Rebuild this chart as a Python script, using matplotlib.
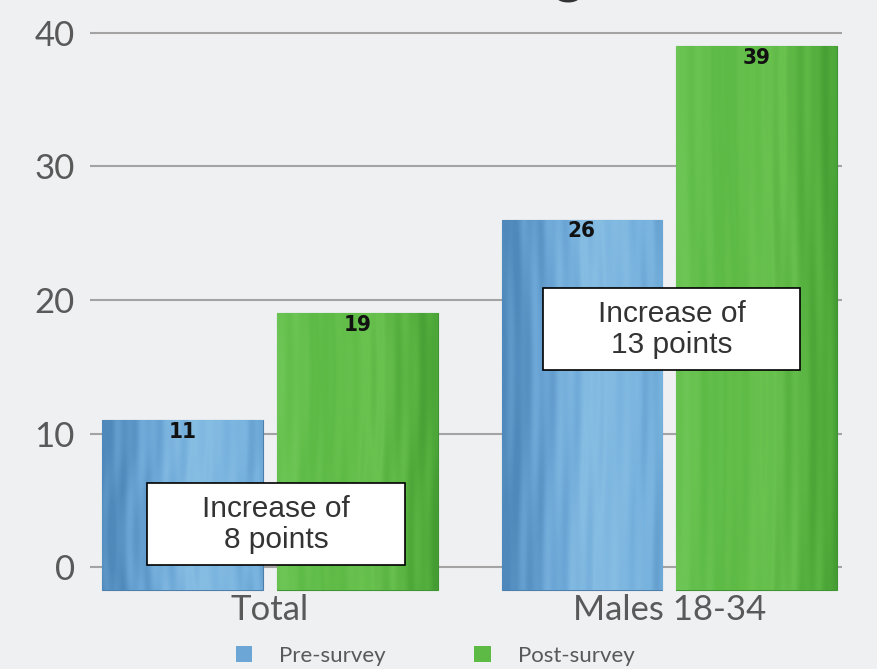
import numpy as np
import matplotlib
matplotlib.use("Agg")
import matplotlib.pyplot as plt
from matplotlib.colors import LinearSegmentedColormap
from matplotlib.patches import Rectangle

# ---- data ----
categories = ["Total", "Males 18-34"]
series_names = ["Pre-survey", "Post-survey"]
pre_survey = [11, 26]
post_survey = [19, 39]
increase_labels = ["Increase of\n8 points", "Increase of\n13 points"]
y_ticks = [0, 10, 20, 30, 40]

# ---- style ----
bg_color = "#EEF0F2"
pre_colors = ["#4F88BA", "#6BA6D6", "#86BDE3", "#78B2DE", "#5E98C9"]
post_colors = ["#6CC554", "#5DBA45", "#6AC24F", "#52AD3C", "#3F962F"]
tick_color = "#595959"
grid_color = "#A3A3A3"
label_font = ["Lato", "DejaVu Sans"]

W, H, DPI = 877, 669, 100
fig = plt.figure(figsize=(W / DPI, H / DPI), dpi=DPI, facecolor=bg_color)
ax = fig.add_axes([90 / W, 69 / H, 752 / W, 600 / H])
ax.set_facecolor("none")
ax.set_xlim(-0.451, 1.433)
ax.set_ylim(-2.47, 42.47)
for s in ax.spines.values():
    s.set_visible(False)

# horizontal grid lines
ax.set_yticks(y_ticks)
ax.set_yticklabels([str(t) for t in y_ticks], fontsize=25, color=tick_color,
                   family=label_font)
ax.tick_params(axis="y", length=0, pad=11)
ax.set_xticks([])
ax.grid(axis="y", color=grid_color, linewidth=1.5, zorder=0)
ax.set_axisbelow(True)

x = np.arange(len(categories))
bar_w = 0.402
offset = 0.219
base = -1.7  # bars sit slightly below the zero line


def textured_fill(patch, colors, phase):
    """Fill a bar with a soft streaked gradient clipped to its outline."""
    cmap = LinearSegmentedColormap.from_list("bar", colors)
    xs = np.linspace(0, 1, 200)
    ys = np.linspace(0, 1, 120)[:, None]
    img = (0.85 * xs
           + 0.06 * np.sin(xs * 37 + phase + 2.0 * np.sin(ys * 5 + phase))
           + 0.04 * np.sin(xs * 83 + phase * 2))
    img = np.clip(img, 0, 1)
    bx, by = patch.get_x(), patch.get_y()
    bw, bh = patch.get_width(), patch.get_height()
    im = ax.imshow(img, cmap=cmap, vmin=0, vmax=1, aspect="auto",
                   extent=(bx, bx + bw, by, by + bh), origin="lower",
                   zorder=2, interpolation="bilinear")
    im.set_clip_path(patch)


bars_pre = ax.bar(x - offset, [v - base for v in pre_survey], bottom=base,
                  width=bar_w, color=pre_colors[1], edgecolor="#4D7FAA",
                  linewidth=0.8, zorder=2, label=series_names[0])
bars_post = ax.bar(x + offset, [v - base for v in post_survey], bottom=base,
                   width=bar_w, color=post_colors[1], edgecolor="#3F9431",
                   linewidth=0.8, zorder=2, label=series_names[1])

for i, p in enumerate(bars_pre):
    textured_fill(p, pre_colors, i * 1.7)
for i, p in enumerate(bars_post):
    textured_fill(p, post_colors, 0.8 + i * 2.3)

# value labels inside the bar tops
for xs_, vals in ((x - offset, pre_survey), (x + offset, post_survey)):
    for xi, v in zip(xs_, vals):
        ax.annotate(str(v), (xi, v), xytext=(0, -1), textcoords="offset points",
                    ha="center", va="top", fontsize=16, fontweight="heavy",
                    fontstretch="condensed", color="#111111", zorder=5,
                    family=["DejaVu Sans"])

# category labels under each pair
for xi, name in zip(x, categories):
    ax.text(xi, -3.2, name, ha="center", va="center", fontsize=25,
            color=tick_color, family=label_font, clip_on=False)

# annotation boxes
box_centers = [(0.015, 3.2), (1.006, 17.8)]
box_w, box_h = 0.646, 6.14
for (cx, cy), txt in zip(box_centers, increase_labels):
    ax.add_patch(Rectangle((cx - box_w / 2, cy - box_h / 2), box_w, box_h,
                           facecolor="white", edgecolor="black", linewidth=1.2,
                           zorder=6))
    ax.text(cx, cy, txt, ha="center", va="center", fontsize=21.5,
            color="#333333", family=["Liberation Sans", "DejaVu Sans"],
            linespacing=1.15, zorder=7)

# legend
leg = fig.legend(handles=[bars_pre, bars_post], labels=series_names,
                 loc="center", bbox_to_anchor=(435 / W, 1 - 656 / H),
                 ncol=2, frameon=False, handlelength=0.75,
                 handleheight=0.75, handletextpad=1.2, columnspacing=4.0,
                 prop={"family": label_font, "size": 16})
for t in leg.get_texts():
    t.set_color(tick_color)
for h in leg.legend_handles:
    h.set_linewidth(0)

# top of the slide title, cut off by the frame
fig.text(568 / W, 1.012, "g", ha="center", va="baseline", fontsize=44,
         color="#333333", family=label_font)

fig.savefig("out.png", dpi=DPI, facecolor=bg_color)
